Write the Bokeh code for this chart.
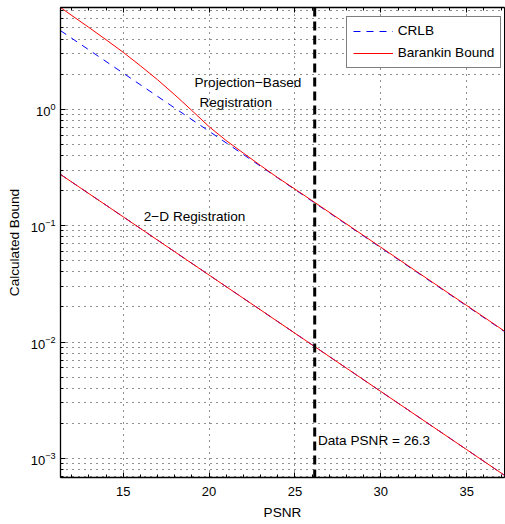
from bokeh.plotting import figure
from bokeh.models import (SingleIntervalTicker, LinearAxis, Span, Label,
                          Legend, LegendItem, FixedTicker)
from bokeh.embed import file_html
from bokeh.resources import INLINE

# ---- data ----
psnr_crlb = [11.35, 15, 20, 25, 30, 35, 37.2]
crlb_proj = [4.73, 2.04, 0.646, 0.204, 0.0646, 0.0204, 0.0123]
crlb_2d = [0.275, 0.119, 0.0376, 0.0119, 0.00376, 0.00119, 0.000716]

psnr_bb = [11.35, 13, 14, 15, 16, 17, 18, 19, 20, 21, 22, 23, 24, 25, 30, 35, 37.2]
bb_proj = [7.46, 5.04, 3.95, 3.08, 2.36, 1.79, 1.33, 0.973, 0.708, 0.537, 0.419, 0.328,
           0.258, 0.206, 0.0652, 0.0206, 0.0124]
psnr_bb2d = [11.35, 15, 20, 25, 30, 35, 37.2]
bb_2d = [0.275, 0.119, 0.0376, 0.0119, 0.00376, 0.00119, 0.000716]

data_psnr = 26.15
y_major = [1e-3, 1e-2, 1e-1, 1e0]
y_minor_mult = [2, 3, 4, 5, 6, 7, 8, 9]

FONT = "Liberation Sans"

p = figure(width=505, height=524, y_axis_type="log",
           x_range=(11.35, 37.2), y_range=(6.86e-4, 7.47),
           output_backend="svg", toolbar_location=None,
           min_border_left=60, min_border_right=1, min_border_top=7, min_border_bottom=47)
p.background_fill_color = "white"
p.border_fill_color = "white"
p.outline_line_color = "black"
p.outline_line_width = 1

y_minor = [m * d for d in [1e-4] + y_major for m in y_minor_mult]

# axes
p.xaxis.ticker = SingleIntervalTicker(interval=5, num_minor_ticks=5)
p.yaxis.ticker = FixedTicker(ticks=y_major, minor_ticks=y_minor)
for ax in (p.xaxis[0], p.yaxis[0]):
    ax.major_tick_in = 5
    ax.major_tick_out = 0
    ax.minor_tick_in = 3
    ax.minor_tick_out = 0
    ax.axis_line_color = "black"
    ax.axis_line_width = 1.3
    ax.major_tick_line_color = "black"
    ax.minor_tick_line_color = "black"
    ax.major_label_text_font = FONT
    ax.major_label_text_font_size = "13px"
    ax.major_label_text_color = "black"
    ax.axis_label_text_font = FONT
    ax.axis_label_text_font_size = "13.6px"
    ax.axis_label_text_font_style = "normal"
    ax.axis_label_text_color = "black"

p.xaxis.axis_label = "PSNR"
p.yaxis.axis_label = "Calculated Bound"
p.xaxis.major_label_standoff = 9
p.xaxis.axis_label_standoff = 6
p.yaxis.major_label_standoff = 5
p.yaxis.axis_label_standoff = 6

top = LinearAxis(ticker=SingleIntervalTicker(interval=5, num_minor_ticks=5),
                 major_label_text_font_size="1px", major_label_text_color=None,
                 major_label_standoff=0,
                 major_tick_in=5, major_tick_out=0, minor_tick_in=3, minor_tick_out=0,
                 axis_line_color="black", axis_line_width=1.3)
p.add_layout(top, "above")

# grids (MATLAB-style sparse dots)
p.xgrid.ticker = SingleIntervalTicker(interval=5)
p.xgrid.grid_line_color = "#222222"
p.xgrid.grid_line_dash = "1 5"
p.xgrid.grid_line_width = 1
p.ygrid.grid_line_color = "#222222"
p.ygrid.grid_line_dash = "1 5"
p.ygrid.minor_grid_line_color = "#222222"
p.ygrid.minor_grid_line_dash = "1 5"

# curves
r_crlb_p = p.line(psnr_crlb, crlb_proj, line_color="#0000ff", line_dash="7 6", line_width=1)
r_crlb_2 = p.line(psnr_crlb, crlb_2d, line_color="#0000ff", line_dash="7 6", line_width=1)
r_bb_p = p.line(psnr_bb, bb_proj, line_color="#ff0000", line_width=1)
r_bb_2 = p.line(psnr_bb2d, bb_2d, line_color="#ff0000", line_width=1)

# data PSNR marker
p.add_layout(Span(location=data_psnr, dimension="height", line_color="black",
                  line_width=3, line_dash="9 5"))

# text annotations
for x, y, t in [(19.15, 1.69, "Projection\u2212Based"),
                (19.44, 1.13, "Registration"),
                (16.2, 0.120, "2\u2212D Registration"),
                (26.34, 1.42e-3, "Data PSNR = 26.3")]:
    p.add_layout(Label(x=x, y=y, text=t, text_font=FONT, text_font_size="13.6px",
                       text_baseline="middle", text_align="left", text_color="black"))

legend = Legend(items=[LegendItem(label="CRLB", renderers=[r_crlb_p]),
                       LegendItem(label="Barankin Bound", renderers=[r_bb_p])],
                location=(285.7, 409.3))
legend.margin = 0
legend.padding = 6
legend.spacing = 6
legend.glyph_width = 40
legend.glyph_height = 16
legend.label_height = 16
legend.label_standoff = 5
legend.border_line_color = "black"
legend.border_line_width = 1
legend.background_fill_color = "white"
legend.background_fill_alpha = 1
legend.label_text_font = FONT
legend.label_text_font_size = "13.6px"
legend.label_text_color = "black"
p.add_layout(legend)

open("out.html", "w").write(file_html(p, INLINE))
